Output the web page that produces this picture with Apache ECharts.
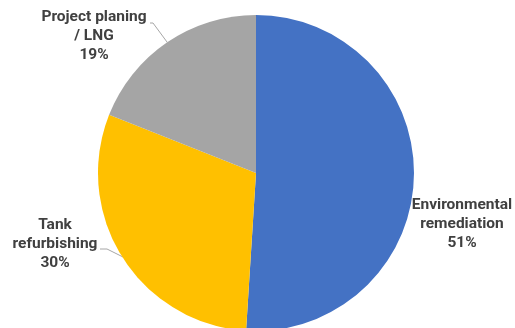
<!DOCTYPE html>
<html>
<head>
<meta charset="utf-8">
<script src="https://cdn.jsdelivr.net/npm/echarts@6/dist/echarts.min.js"></script>
<style>
  html, body { margin: 0; padding: 0; background: #fff; }
  #main { width: 515px; height: 328px; }
</style>
</head>
<body>
<div id="main"></div>
<script>
// slice names and shares (%)
var categories = ['Environmental\nremediation', 'Tank\nrefurbishing', 'Project planing\n/ LNG'];
var shares = [51, 30, 19];
var colors = ['#4472C4', '#FFC000', '#A5A5A5'];

// where each label block sits (center point) and its leader line
var labelSpots = [[462, 224], [55, 244], [94, 36]];
var leaderLines = [
    null,
    [[123, 257], [107, 249], [100, 249]],
    [[167, 42], [153, 23], [150, 23]]
];

var chart = echarts.init(document.getElementById('main'));

var pieData = categories.map(function (c, i) {
    return {
        name: c,
        value: shares[i],
        itemStyle: { color: colors[i] },
        labelLine: { show: leaderLines[i] !== null }
    };
});

var option = {
    animation: false,
    series: [{
        type: 'pie',
        center: [256, 173],
        radius: 158,
        startAngle: 90,
        clockwise: true,
        data: pieData,
        itemStyle: { borderWidth: 0 },
        label: {
            show: true,
            position: 'outside',
            formatter: '{b}\n{c}%',
            fontFamily: 'Roboto',
            fontWeight: 'bold',
            fontSize: 15.5,
            lineHeight: 19,
            color: '#404040',
            align: 'center',
            overflow: 'none'
        },
        labelLine: {
            show: true,
            length: 10,
            length2: 10,
            lineStyle: { color: '#A6A6A6', width: 1 }
        },
        labelLayout: function (p) {
            var s = labelSpots[p.dataIndex];
            var out = {
                x: s[0],
                y: s[1],
                align: 'center',
                verticalAlign: 'middle'
            };
            if (leaderLines[p.dataIndex]) out.labelLinePoints = leaderLines[p.dataIndex];
            return out;
        }
    }]
};

chart.setOption(option);
</script>
</body>
</html>
